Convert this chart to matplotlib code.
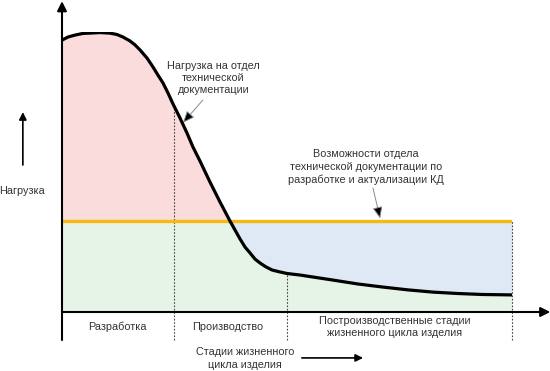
import numpy as np
import matplotlib
matplotlib.use("Agg")
import matplotlib.pyplot as plt

plt.rcParams['font.family'] = ['Liberation Sans', 'DejaVu Sans']

# load curve over the product life cycle (x: 0..100, y: 0..100)
stage_x = [0, 1.33, 2.89, 4.67, 6.22, 8.44, 10.67, 12.22, 13.56, 15.11, 16.22,
           17.33, 18.89, 20.22, 21.33, 22.44, 23.56, 24.67, 26.22, 27.78,
           29.11, 30.67, 32.89, 35.11, 37.33, 38.44, 39.56, 40.67, 41.78,
           42.89, 44.0, 45.33, 46.67, 48.44, 50.0, 52.89, 60.22, 65.78,
           71.33, 76.89, 82.44, 88.0, 93.56, 100]
load = [97.1, 98.2, 98.9, 99.5, 99.6, 99.8, 99.6, 99.1, 98.2, 96.8, 95.4,
        93.6, 90.7, 87.5, 84.6, 81.8, 78.2, 74.3, 69.3, 63.9,
        58.9, 53.9, 46.4, 39.3, 32.5, 29.3, 26.1, 23.2, 21.1,
        18.9, 17.5, 16.1, 15.0, 14.3, 13.75, 13.2, 11.4, 10.0,
        8.9, 7.9, 7.1, 6.6, 6.25, 6.1]
capacity = 32.5

stage_bounds = [24.9, 50.0, 100.0]
stage_names = ["Разработка", "Производство",
               "Построизводственные стадии\nжизненного цикла изделия"]
stage_centers = [12.2, 36.9, 74.0]

x = np.array(stage_x)
y = np.array(load)

fig = plt.figure(figsize=(5.5, 3.71), dpi=100)
ax = fig.add_axes([62 / 550, 59 / 371, 450 / 550, 280 / 371])
ax.set_xlim(0, 100)
ax.set_ylim(0, 100)
ax.axis('off')

txt = '#333333'

ax.fill_between(x, capacity, y, where=y >= capacity, interpolate=True,
                color='#fbdcdc', lw=0)
ax.fill_between(x, 0, np.minimum(y, capacity), color='#e6f4e8', lw=0)
ax.fill_between(x, y, capacity, where=y <= capacity, interpolate=True,
                color='#dee9f5', lw=0)

# dotted stage boundaries
dots = dict(color='#444444', lw=0.8, ls=(0, (1.5, 1.5)), clip_on=False)
ax.plot([stage_bounds[0]] * 2, [-10, np.interp(stage_bounds[0], x, y)], **dots)
ax.plot([stage_bounds[1]] * 2, [-10, np.interp(stage_bounds[1], x, y)], **dots)
ax.plot([stage_bounds[2]] * 2, [-10, capacity], **dots)

ax.plot([0, 100], [capacity, capacity], color='#f5b914', lw=2.4,
        solid_capstyle='butt', zorder=3)
ax.plot(x, y, color='black', lw=2.3, zorder=4, solid_capstyle='round',
        solid_joinstyle='round')

# axes with arrows
ax.annotate('', xy=(0, 111), xytext=(0, -10), annotation_clip=False,
            arrowprops=dict(arrowstyle='-|>', lw=1.5, color='black',
                            mutation_scale=14, shrinkA=0, shrinkB=0))
ax.annotate('', xy=(108.5, 0), xytext=(0, 0), annotation_clip=False,
            arrowprops=dict(arrowstyle='-|>', lw=1.5, color='black',
                            mutation_scale=14, shrinkA=0, shrinkB=0))

for cx, name in zip(stage_centers, stage_names):
    ax.text(cx, -5.4, name, ha='center', va='center', fontsize=7.8,
            color=txt, linespacing=1.3, clip_on=False)

ax.text(40.7, -16.6, "Стадии жизненного\nцикла изделия", ha='center',
        va='center', fontsize=7.8, color=txt, linespacing=1.3)
ax.annotate('', xy=(66.9, -16.4), xytext=(53.3, -16.4), annotation_clip=False,
            arrowprops=dict(arrowstyle='-|>', lw=1.2, color='black',
                            mutation_scale=11, shrinkA=0, shrinkB=0))

# y label
ax.text(-8.9, 43.2, "Нагрузка", ha='center', va='center', fontsize=7.8,
        color=txt)
ax.annotate('', xy=(-8.7, 71.4), xytext=(-8.7, 52.5), annotation_clip=False,
            arrowprops=dict(arrowstyle='-|>', lw=1.2, color='black',
                            mutation_scale=11, shrinkA=0, shrinkB=0))

# callouts
pointer = dict(arrowstyle='-|>,head_length=0.7,head_width=0.3', lw=0.7,
               mutation_scale=10, shrinkA=0, shrinkB=0,
               fc='black', ec='#8a8a8a')
ax.text(33.6, 83.6, "Нагрузка на отдел\nтехнической\nдокументации",
        ha='center', va='center', fontsize=7.8, color=txt, linespacing=1.3)
ax.annotate('', xy=(26.9, 67.6), xytext=(31.3, 75.7), arrowprops=pointer)
ax.text(67.6, 51.8,
        "Возможности отдела\nтехнической документации по\nразработке и актуализации КД",
        ha='center', va='center', fontsize=7.8, color=txt, linespacing=1.3)
ax.annotate('', xy=(70.7, 33.4), xytext=(69.1, 44.3), arrowprops=pointer)

fig.savefig("out.png", dpi=100)
